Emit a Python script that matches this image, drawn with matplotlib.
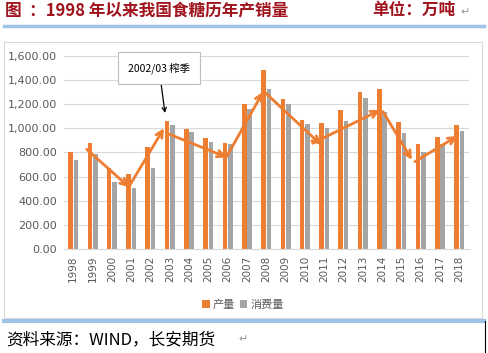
import numpy as np
import matplotlib.pyplot as plt
from matplotlib.patches import Rectangle
from matplotlib.lines import Line2D

plt.rcParams['font.family'] = ['Noto Sans CJK SC', 'DejaVu Sans']

years = [str(y) for y in range(1998, 2019)]
production = [805, 877, 673, 620, 845, 1062, 996, 919, 877, 1200, 1482,
              1239, 1068, 1046, 1151, 1302, 1327, 1051, 869, 925, 1029]
consumption = [734, 786, 555, 508, 670, 1029, 968, 886, 869, 1159, 1327,
               1198, 1037, 999, 1062, 1247, 1134, 958, 803, 869, 979]

# hand-drawn trend arrows: (start index, start value, end index, end value)
trend_arrows = [(0.7, 825, 2.9, 511), (2.9, 520, 4.7, 1000), (4.85, 958, 7.95, 759),
                (7.95, 765, 9.84, 1302), (9.8, 1316, 12.85, 861), (12.4, 875, 15.9, 1150),
                (16.05, 1137, 17.55, 737), (17.7, 723, 19.9, 935)]
callout_text = "2002/03 榨季"
callout_target = (4.75, 1126)

orange = '#ED7D31'
gray = '#A5A5A5'

fig = plt.figure(figsize=(4.88, 3.53), dpi=100)

# header / footer decorations
fig.text(0.01, 0.972, "图  ：1998 年以来我国食糖历年产销量", color='#A0141E',
         fontsize=12, fontweight='bold', va='center')
fig.text(0.762, 0.972, "单位：万吨", color='#A0141E', fontsize=12,
         fontweight='bold', va='center')
fig.text(0.943, 0.966, "↵", color='#999999', fontsize=8, va='center',
         family=['DejaVu Sans'])
fig.add_artist(Line2D([0.008, 0.992], [0.925, 0.925], color='#9DC3E6', lw=2.5))
fig.add_artist(Line2D([0.008, 0.992], [0.09, 0.09], color='#9DC3E6', lw=3))
fig.add_artist(Rectangle((0.008, 0.1), 0.98, 0.78, fill=False, ec='#D9D9D9', lw=0.8))
fig.add_artist(Line2D([0.993, 0.993], [0.0, 0.09], color='black', lw=0.8))
fig.text(0.012, 0.037, "资料来源：WIND，长安期货", color='black', fontsize=12, va='center')
fig.text(0.488, 0.04, "↵", color='#999999', fontsize=8, va='center', family=['DejaVu Sans'])

ax = fig.add_axes([0.1304, 0.2946, 0.8305, 0.5476])
x = np.arange(len(years))
w = 0.24
ax.bar(x - 0.14, production, w, color=orange, label='产量', zorder=2)
ax.bar(x + 0.14, consumption, w, color=gray, label='消费量', zorder=2)

ax.set_xlim(-0.5, len(years) - 0.5)
ax.set_ylim(0, 1600)
ax.set_yticks(np.arange(0, 1601, 200))
ax.set_yticklabels([f"{v:,.2f}" for v in range(0, 1601, 200)], fontsize=8,
                   color='#595959', family=['DejaVu Sans'])
ax.set_xticks(x)
ax.set_xticklabels(years, rotation=90, fontsize=7.5, color='#595959',
                   family=['DejaVu Sans'])
ax.tick_params(length=0, pad=5)
ax.grid(axis='y', color='#D9D9D9', lw=0.8, zorder=0)
for s in ['top', 'right', 'left']:
    ax.spines[s].set_visible(False)
ax.spines['bottom'].set_color('#D9D9D9')

for x0, y0, x1, y1 in trend_arrows:
    ax.annotate('', xy=(x1, y1), xytext=(x0, y0),
                arrowprops=dict(arrowstyle='->', color=orange, lw=2,
                                mutation_scale=12, shrinkA=0, shrinkB=0), zorder=3)

ax.annotate(callout_text, xy=callout_target, xytext=(4.44, 1500),
            fontsize=7.5, ha='center', va='center', annotation_clip=False,
            bbox=dict(boxstyle='square,pad=1.0', fc='white', ec='#BFBFBF', lw=0.8),
            arrowprops=dict(arrowstyle='->', color='black', lw=0.9, shrinkA=0, shrinkB=0),
            zorder=5)

fig.legend(*ax.get_legend_handles_labels(), loc='center', bbox_to_anchor=(0.498, 0.137),
           ncol=2, frameon=False, fontsize=8, handlelength=0.7, handleheight=0.7,
           handletextpad=0.3, columnspacing=0.4, labelcolor='#595959')

fig.savefig('out.png', dpi=100)
